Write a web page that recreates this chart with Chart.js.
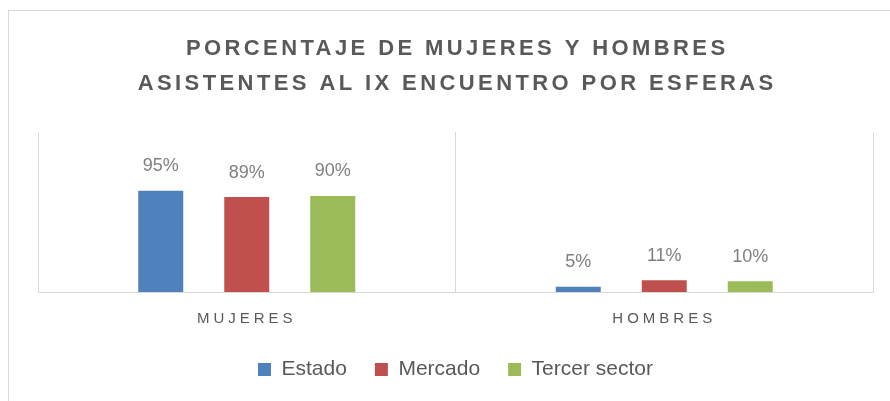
<!DOCTYPE html>
<html>
<head>
<meta charset="utf-8">
<script src="https://cdn.jsdelivr.net/npm/chart.js@4.4.1/dist/chart.umd.min.js"></script>
<style>
  html, body { margin: 0; padding: 0; background: #fff; overflow: hidden; }
  #frame { position: absolute; left: 8px; top: 10px; width: 900px; height: 420px; border: 1px solid #d9d9d9; box-sizing: border-box; }
  #wrap { position: absolute; left: 0; top: 0; width: 890px; height: 401px; }
</style>
</head>
<body>
<div id="frame"></div>
<div id="wrap"><canvas id="chart" width="890" height="401"></canvas></div>
<script>
// Chart data
const titleLines = ['PORCENTAJE DE MUJERES Y HOMBRES', 'ASISTENTES AL IX ENCUENTRO POR ESFERAS'];
const categories = ['MUJERES', 'HOMBRES'];
const estado = [95, 5];
const mercado = [89, 11];
const tercerSector = [90, 10];

const textColor = '#595959';
const fontFamily = '"Liberation Sans", Arial, sans-serif';

// Draws title, letter-spaced category labels and value labels
const labelsPlugin = {
  id: 'labels',
  afterDraw(chart) {
    const ctx = chart.ctx;
    const area = chart.chartArea;
    const cx = (area.left + area.right) / 2;

    ctx.save();
    ctx.fillStyle = textColor;
    ctx.textAlign = 'center';
    ctx.textBaseline = 'middle';

    // title
    ctx.font = 'bold 22px ' + fontFamily;
    ctx.letterSpacing = '3.4px';
    ctx.fillText(titleLines[0], cx + 1.7, 49);
    ctx.fillText(titleLines[1], cx + 1.7, 84);

    // category labels
    const xScale = chart.scales.x;
    ctx.font = '15px ' + fontFamily;
    ctx.letterSpacing = '4px';
    categories.forEach((c, i) => {
      ctx.fillText(c, xScale.getPixelForValue(i), 318.5);
    });

    // value labels
    ctx.letterSpacing = '0px';
    ctx.font = '18px ' + fontFamily;
    ctx.fillStyle = '#7f7f7f';
    chart.data.datasets.forEach((ds, di) => {
      const meta = chart.getDatasetMeta(di);
      meta.data.forEach((bar, i) => {
        ctx.fillText(ds.data[i] + '%', bar.x, bar.y - 24.5);
      });
    });
    ctx.restore();
  },
};

const ctx = document.getElementById('chart').getContext('2d');

const myChart = new Chart(ctx, {
  type: 'bar',
  data: {
    labels: categories,
    datasets: [
      { label: 'Estado', data: estado, backgroundColor: '#4f81bd' },
      { label: 'Mercado', data: mercado, backgroundColor: '#c0504d' },
      { label: 'Tercer sector', data: tercerSector, backgroundColor: '#9bbb59' },
    ],
  },
  options: {
    responsive: false,
    animation: false,
    categoryPercentage: 0.618,
    barPercentage: 0.523,
    layout: {
      padding: { top: 132, left: 38, right: 17, bottom: 11 },
    },
    scales: {
      x: {
        grid: {
          color: '#d9d9d9',
          lineWidth: 1,
          drawTicks: false,
        },
        border: { display: true, color: '#d9d9d9', width: 1 },
        ticks: { display: false },
        afterFit: (scale) => {
          scale.height = 39;
        },
      },
      y: {
        display: false,
        min: 0,
        max: 150,
      },
    },
    plugins: {
      title: { display: false },
      tooltip: { enabled: false },
      legend: {
        position: 'bottom',
        labels: {
          boxWidth: 13,
          boxHeight: 13,
          padding: 28,
          color: textColor,
          font: { family: fontFamily, size: 21 },
        },
      },
    },
  },
  plugins: [labelsPlugin],
});
</script>
</body>
</html>
